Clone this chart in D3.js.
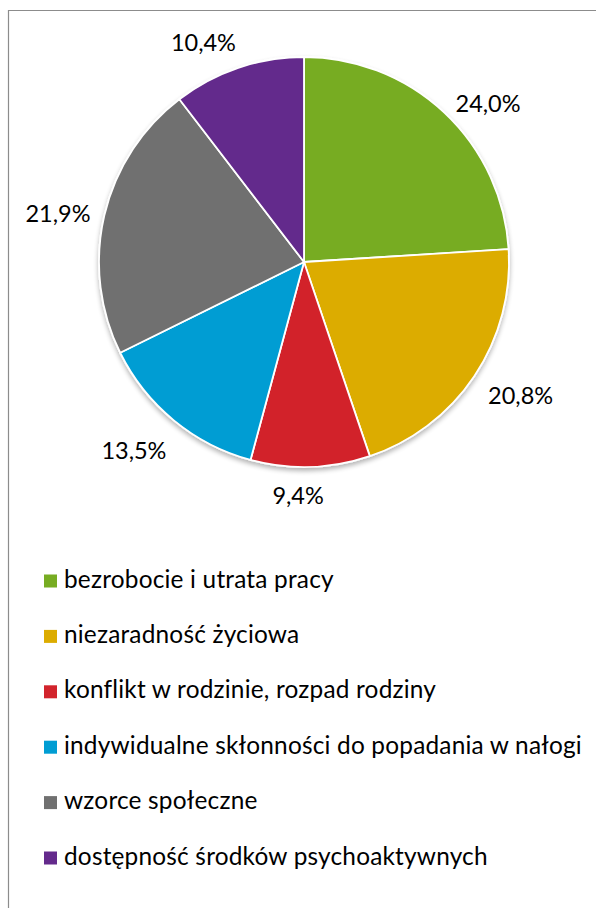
<!DOCTYPE html>
<html>
<head>
<meta charset="utf-8">
<script src="https://cdn.jsdelivr.net/npm/d3@7"></script>
<style>
  html, body { margin: 0; padding: 0; background: #fff; }
  svg { display: block; }
  text { font-family: Lato, "Open Sans", sans-serif; fill: #000; }
</style>
</head>
<body>
<svg id="chart" width="596" height="908"></svg>
<script>
// Przyczyny problemów społecznych (udział odpowiedzi, %)
const categories = [
  "bezrobocie i utrata pracy",
  "niezaradność życiowa",
  "konflikt w rodzinie, rozpad rodziny",
  "indywidualne skłonności do popadania w nałogi",
  "wzorce społeczne",
  "dostępność środków psychoaktywnych"
];
const values = [24.0, 20.8, 9.4, 13.5, 21.9, 10.4];
const colors = ["#77ac22", "#dcac00", "#d2242c", "#009dd3", "#707070", "#642a8c"];

// small hand adjustments of the outside labels (layout only)
const labelNudge = [[16, 20], [10, -5], [-13, 7], [-15, 0], [-2, 8], [-25, 4]];

const svg = d3.select("#chart");
const W = 596, H = 908;
const cx = 304, cy = 262, R = 205;
const labelFont = 23.5;
const legendFont = 24.4;

// frame (only top and left edges fall inside the page)
svg.append("path")
  .attr("d", `M8.5,${H} L8.5,10.5 L${W},10.5`)
  .attr("fill", "none")
  .attr("stroke", "#8c8c8c")
  .attr("stroke-width", 1.2);

const defs = svg.append("defs");
const shadow = defs.append("filter").attr("id", "shadow")
  .attr("x", "-20%").attr("y", "-20%").attr("width", "140%").attr("height", "140%");
shadow.append("feGaussianBlur").attr("in", "SourceAlpha").attr("stdDeviation", 2.5).attr("result", "b");
shadow.append("feOffset").attr("in", "b").attr("dx", 0).attr("dy", 3).attr("result", "o");
shadow.append("feComponentTransfer").attr("in", "o").attr("result", "s")
  .append("feFuncA").attr("type", "linear").attr("slope", 0.3);
const merge = shadow.append("feMerge");
merge.append("feMergeNode").attr("in", "s");
merge.append("feMergeNode").attr("in", "SourceGraphic");

const pie = d3.pie().sort(null).value(d => d)(values);
const arc = d3.arc().innerRadius(0).outerRadius(R);

const g = svg.append("g").attr("transform", `translate(${cx},${cy})`);
g.append("g").attr("filter", "url(#shadow)")
  .selectAll("path").data(pie).join("path")
  .attr("d", arc)
  .attr("fill", (d, i) => colors[i])
  .attr("stroke", "#fff")
  .attr("stroke-width", 1.8)
  .attr("stroke-linejoin", "round");

const fmt = v => v.toFixed(1).replace(".", ",") + "%";

// outside-end labels: the text box is pushed out along the slice bisector
const pad = 12;
const capH = 17;
g.selectAll("text.lbl").data(pie).join("text")
  .attr("class", "lbl")
  .attr("font-size", labelFont)
  .attr("text-anchor", "middle")
  .text(d => fmt(d.data))
  .each(function (d, i) {
    const w = this.getComputedTextLength();
    const a = (d.startAngle + d.endAngle) / 2;
    const s = Math.sin(a), c = -Math.cos(a);
    const dist = R + pad + Math.abs(s) * w / 2 + Math.abs(c) * capH / 2;
    const x = s * dist + labelNudge[i][0];
    const y = c * dist + labelNudge[i][1];
    d3.select(this).attr("x", x).attr("y", y + capH / 2);
  });

// legend
const legY0 = 581, legStep = 55.4;
const leg = svg.append("g").selectAll("g").data(categories).join("g")
  .attr("transform", (d, i) => `translate(44,${legY0 + i * legStep})`);
leg.append("rect")
  .attr("x", 0).attr("y", -6.5).attr("width", 13).attr("height", 13)
  .attr("fill", (d, i) => colors[i]);
leg.append("text")
  .attr("x", 20).attr("y", 6.5)
  .attr("font-size", legendFont)
  .attr("letter-spacing", 0.2)
  .text(d => d);
</script>
</body>
</html>
